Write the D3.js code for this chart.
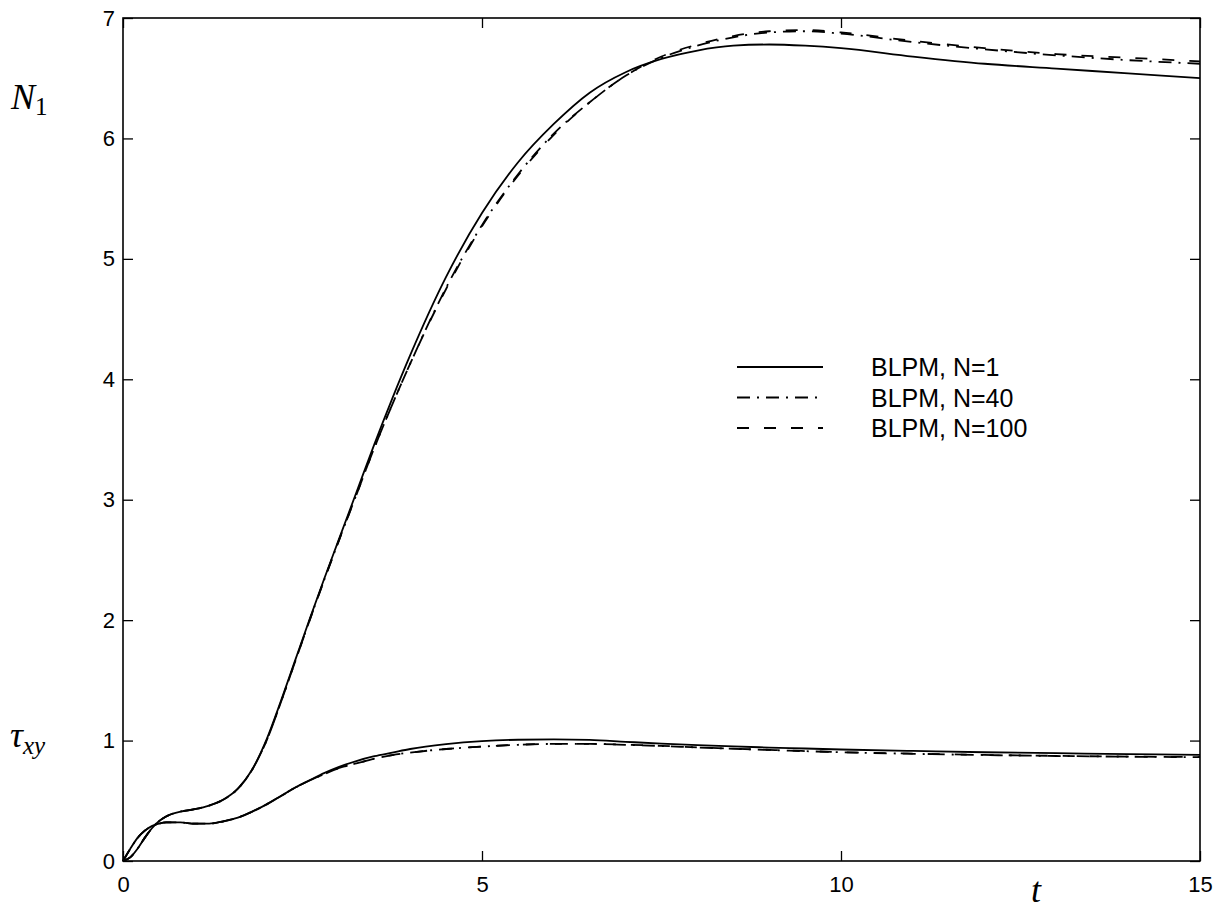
<!DOCTYPE html>
<html>
<head>
<meta charset="utf-8">
<script src="https://cdn.jsdelivr.net/npm/d3@7"></script>
<style>
  body { margin: 0; background: #fff; }
  svg { display: block; }
</style>
</head>
<body>
<svg id="chart" width="1223" height="911"></svg>
<script>
// Data
const tValues = [0, 0.1, 0.2, 0.3, 0.4, 0.5, 0.6, 0.8, 1.0, 1.2, 1.4, 1.6, 1.8, 2.0, 2.2, 2.4, 2.6, 2.8, 3.0, 3.25, 3.5, 3.75, 4.0, 4.5, 5.0, 5.5, 6.0, 6.5, 7.0, 7.5, 8.0, 8.5, 9.0, 9.5, 10, 11, 12, 13, 14, 15];

// first normal stress difference N1
const n1N1   = [0, 0.03, 0.10, 0.19, 0.27, 0.33, 0.37, 0.41, 0.43, 0.46, 0.51, 0.60, 0.76, 1.01, 1.33, 1.67, 2.01, 2.34, 2.66, 3.06, 3.46, 3.84, 4.20, 4.85, 5.38, 5.80, 6.12, 6.38, 6.55, 6.66, 6.73, 6.77, 6.78, 6.77, 6.75, 6.68, 6.62, 6.58, 6.54, 6.50];
const n1N40  = [0, 0.03, 0.10, 0.19, 0.27, 0.33, 0.37, 0.41, 0.43, 0.46, 0.51, 0.60, 0.76, 1.00, 1.32, 1.66, 2.00, 2.33, 2.65, 3.04, 3.43, 3.79, 4.13, 4.76, 5.28, 5.70, 6.04, 6.30, 6.52, 6.67, 6.77, 6.84, 6.88, 6.89, 6.87, 6.80, 6.74, 6.69, 6.65, 6.62];
const n1N100 = [0, 0.03, 0.10, 0.19, 0.27, 0.33, 0.37, 0.41, 0.43, 0.46, 0.51, 0.60, 0.76, 1.00, 1.32, 1.66, 2.00, 2.33, 2.65, 3.04, 3.43, 3.79, 4.13, 4.75, 5.27, 5.69, 6.03, 6.30, 6.52, 6.68, 6.78, 6.85, 6.89, 6.90, 6.88, 6.81, 6.75, 6.70, 6.67, 6.64];

// shear stress tau_xy
const tauN1   = [0, 0.10, 0.19, 0.25, 0.29, 0.31, 0.32, 0.32, 0.31, 0.31, 0.33, 0.36, 0.41, 0.47, 0.54, 0.61, 0.67, 0.73, 0.78, 0.83, 0.87, 0.90, 0.93, 0.97, 0.995, 1.007, 1.01, 1.005, 0.99, 0.975, 0.962, 0.951, 0.942, 0.934, 0.926, 0.914, 0.903, 0.895, 0.888, 0.882];
const tauN40  = [0, 0.10, 0.19, 0.25, 0.29, 0.31, 0.32, 0.32, 0.31, 0.31, 0.33, 0.36, 0.41, 0.47, 0.54, 0.61, 0.67, 0.72, 0.77, 0.81, 0.85, 0.88, 0.90, 0.93, 0.95, 0.965, 0.972, 0.972, 0.965, 0.955, 0.943, 0.932, 0.922, 0.912, 0.903, 0.89, 0.88, 0.872, 0.866, 0.862];
const tauN100 = [0, 0.10, 0.19, 0.25, 0.29, 0.31, 0.32, 0.32, 0.31, 0.31, 0.33, 0.36, 0.41, 0.47, 0.54, 0.61, 0.67, 0.72, 0.77, 0.81, 0.85, 0.88, 0.90, 0.93, 0.95, 0.965, 0.972, 0.972, 0.966, 0.956, 0.944, 0.933, 0.923, 0.913, 0.904, 0.891, 0.881, 0.873, 0.867, 0.863];

const seriesNames = ["BLPM, N=1", "BLPM, N=40", "BLPM, N=100"];
const xTicks = [0, 5, 10, 15];
const yTicks = [0, 1, 2, 3, 4, 5, 6, 7];

// Layout
const margin = {top: 18, right: 23, bottom: 50, left: 123};
const width = 1223, height = 911;
const chartWidth = width - margin.left - margin.right;
const chartHeight = height - margin.top - margin.bottom;
const dashes = ["none", "13,7,2,7", "12,15"];

const svg = d3.select("#chart");
const g = svg.append("g")
  .attr("transform", `translate(${margin.left}, ${margin.top})`);

const xScale = d3.scaleLinear().domain([0, 15]).range([0, chartWidth]);
const yScale = d3.scaleLinear().domain([0, 7]).range([chartHeight, 0]);

const line = d3.line()
  .x(d => xScale(d[0]))
  .y(d => yScale(d[1]))
  .curve(d3.curveMonotoneX);

// Axes with inward ticks
const tickFont = "'Liberation Sans', Arial, sans-serif";

g.append("g")
  .attr("transform", `translate(0, ${chartHeight})`)
  .call(d3.axisBottom(xScale).tickValues(xTicks).tickSizeInner(-10).tickSizeOuter(0).tickPadding(15).tickFormat(d3.format("d")));
g.append("g")
  .call(d3.axisTop(xScale).tickValues(xTicks).tickSizeInner(-10).tickSizeOuter(0).tickFormat(""));
g.append("g")
  .call(d3.axisLeft(yScale).tickValues(yTicks).tickSizeInner(-10).tickSizeOuter(0).tickPadding(8).tickFormat(d3.format("d")));
g.append("g")
  .attr("transform", `translate(${chartWidth}, 0)`)
  .call(d3.axisRight(yScale).tickValues(yTicks).tickSizeInner(-10).tickSizeOuter(0).tickFormat(""));

g.selectAll(".domain").remove();
g.selectAll(".tick line").attr("stroke", "#000").attr("stroke-width", 1.3);
g.selectAll(".tick text")
  .attr("fill", "#000")
  .attr("font-family", tickFont)
  .attr("font-size", "22px");

// Frame
g.append("rect")
  .attr("x", 0).attr("y", 0)
  .attr("width", chartWidth).attr("height", chartHeight)
  .attr("fill", "none")
  .attr("stroke", "#000")
  .attr("stroke-width", 1.6);

// Curves
const n1Series = [n1N1, n1N40, n1N100];
const tauSeries = [tauN1, tauN40, tauN100];

[tauSeries, n1Series].forEach(group => {
  group.forEach((vals, i) => {
    g.append("path")
      .datum(tValues.map((t, j) => [t, vals[j]]))
      .attr("d", line)
      .attr("fill", "none")
      .attr("stroke", "#000")
      .attr("stroke-width", 1.8)
      .attr("stroke-dasharray", dashes[i]);
  });
});

// Legend
const legend = svg.append("g").attr("transform", "translate(737, 367)");
seriesNames.forEach((name, i) => {
  legend.append("line")
    .attr("x1", 0).attr("x2", 86)
    .attr("y1", i * 30.5).attr("y2", i * 30.5)
    .attr("stroke", "#000")
    .attr("stroke-width", 1.8)
    .attr("stroke-dasharray", dashes[i]);
  legend.append("text")
    .attr("x", 134)
    .attr("y", i * 30.5 + 9)
    .attr("font-family", tickFont)
    .attr("font-size", "25px")
    .text(name);
});

// Math labels
const mathFont = "'Liberation Serif', 'Times New Roman', serif";

const n1Label = svg.append("text")
  .attr("x", 11).attr("y", 109)
  .attr("font-family", mathFont)
  .attr("font-size", "36px");
n1Label.append("tspan").attr("font-style", "italic").text("N");
n1Label.append("tspan").attr("font-size", "25px").attr("dy", 6).text("1");

const tauLabel = svg.append("text")
  .attr("x", 10).attr("y", 747)
  .attr("font-family", mathFont)
  .attr("font-size", "36px");
tauLabel.append("tspan").attr("font-style", "italic").text("τ");
tauLabel.append("tspan").attr("font-style", "italic").attr("font-size", "25px").attr("dy", 7).text("xy");

svg.append("text")
  .attr("x", 1031).attr("y", 902)
  .attr("font-family", mathFont)
  .attr("font-style", "italic")
  .attr("font-size", "36px")
  .text("t");
</script>
</body>
</html>
